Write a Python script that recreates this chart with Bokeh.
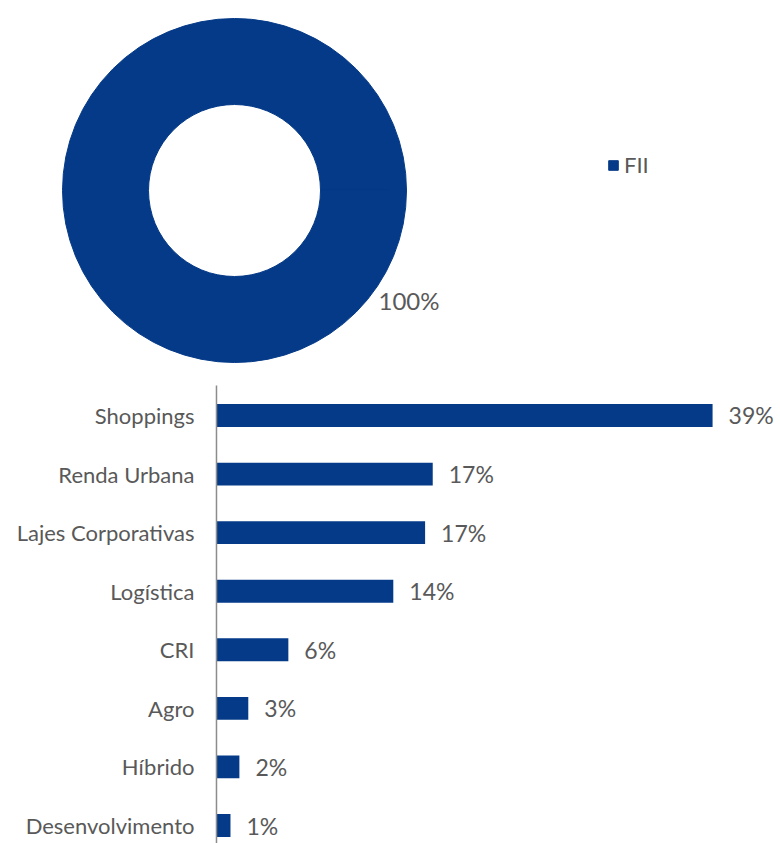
import numpy as np
from bokeh.plotting import figure
from bokeh.layouts import column
from bokeh.models import Range1d, Legend, LegendItem, ColumnDataSource
from bokeh.core.properties import value
from bokeh.embed import file_html
from bokeh.resources import INLINE

# ---- data ----
donut_labels = ["FII"]
donut_values = [100]
donut_text = ["100%"]

categories = ["Shoppings", "Renda Urbana", "Lajes Corporativas", "Logística",
              "CRI", "Agro", "Híbrido", "Desenvolvimento"]
bar_values = [39.0, 17.0, 16.4, 13.9, 5.65, 2.5, 1.8, 1.1]
bar_labels = ["39%", "17%", "17%", "14%", "6%", "3%", "2%", "1%"]

BLUE = "#053A88"
TEXT = "#595959"
FONT = "Lato"
W = 780

# ---- donut ----
H1 = 373
p1 = figure(width=W, height=H1, output_backend="svg", toolbar_location=None,
            x_range=Range1d(0, W), y_range=Range1d(0, H1),
            x_axis_location=None, y_axis_location=None, min_border=0)
p1.outline_line_color = None
p1.grid.visible = False
tot = sum(donut_values)
ang = np.cumsum([0] + [v / tot * 2 * np.pi for v in donut_values])
cx, cy = 234, 183
src1 = ColumnDataSource(dict(start=ang[:-1], end=ang[1:], label=donut_labels))
r = p1.annular_wedge(x=cx, y=cy, inner_radius=86, outer_radius=172,
                     start_angle="start", end_angle="end", source=src1,
                     fill_color=BLUE, line_color=BLUE)
p1.text(x=[cx + 144], y=[cy - 110], text=donut_text, text_font=value(FONT),
        text_font_size="24px", text_color=TEXT, text_align="left",
        text_baseline="middle")
legend = Legend(items=[LegendItem(label=donut_labels[0], renderers=[r])],
                location=(607, H1 - 178), border_line_color=None,
                background_fill_alpha=0, label_text_font=FONT,
                label_text_font_size="22px", label_text_color=TEXT,
                glyph_width=12, glyph_height=12, label_standoff=5, padding=0,
                margin=0)
p1.add_layout(legend, "center")

# ---- bars ----
H2 = 470
n = len(categories)
ypos = [n - 1 - i for i in range(n)]
src2 = ColumnDataSource(dict(y=ypos, v=bar_values, lab=bar_labels, cat=categories,
                             zero=[0] * n))
p2 = figure(width=W, height=H2, output_backend="svg", toolbar_location=None,
            x_range=Range1d(-16.98, 44.34), y_range=Range1d(-0.307, 7.717),
            x_axis_location=None, y_axis_location=None, min_border=0)
p2.outline_line_color = None
p2.grid.visible = False
p2.hbar(y="y", right="v", left=0, height=0.39, source=src2,
        fill_color=BLUE, line_color=None)
p2.text(x="v", y="y", text="lab", source=src2, x_offset=16,
        text_font=value(FONT), text_font_size="23px", text_color=TEXT,
        text_align="left", text_baseline="middle")
# category axis: labels and axis line
p2.text(x="zero", y="y", text="cat", source=src2, x_offset=-22,
        text_font=value(FONT), text_font_size="22px", text_color=TEXT,
        text_align="right", text_baseline="middle")
p2.segment(x0=[0], y0=[-0.307], x1=[0], y1=[n - 1 + 0.512],
           line_color="#8c8c8c", line_width=1.5)

layout = column(p1, p2, spacing=0)
open("out.html", "w").write(file_html(layout, INLINE))
